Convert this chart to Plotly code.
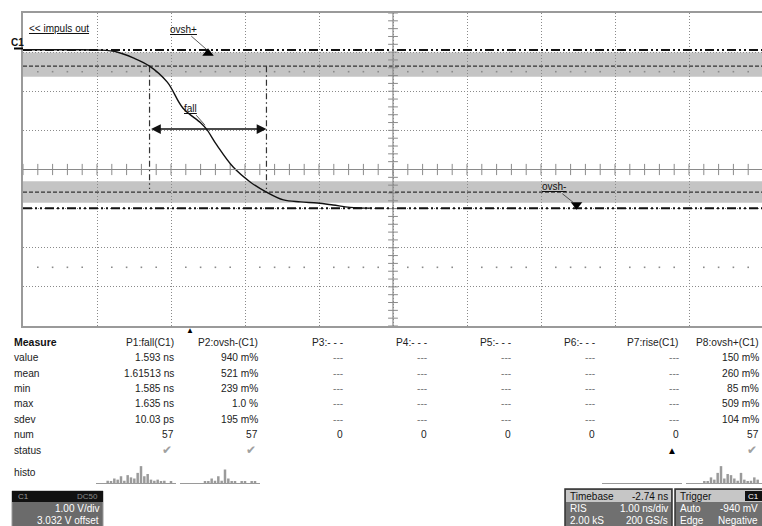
import plotly.graph_objects as go

W, H = 762, 526
FONT = "Liberation Sans"

# ---------------- screen geometry (scope settings) ----------------
T_DIV = 1.00          # ns/div
V_DIV = 1.00          # V/div
V_OFFSET = 3.032      # V
T_CENTER = 2.74       # ns (timebase delay)
N_XDIV, N_YDIV = 10, 8

# ---------------- waveform C1 (ns, V) ----------------
t_ns = [-2.26, -1.60, -1.22, -0.99, -0.77, -0.55, -0.31, -0.10, 0.14, 0.22,
        0.36, 0.58, 0.81, 1.03, 1.26, 1.49, 1.72, 1.93, 2.16, 2.45]
v_V = [0.03, 0.03, 0.02, -0.03, -0.18, -0.39, -0.80, -1.46, -1.84, -2.00,
       -2.41, -2.97, -3.35, -3.61, -3.81, -3.86, -3.89, -3.94, -4.00, -4.02]

# measurement levels (V)
top_level = 0.02
base_level = -4.02
upper_band = [-0.04, -0.66]
upper_thresh = -0.39
lower_band = [-3.33, -3.88]
lower_thresh = -3.61
# fall cursors (ns) and arrow level
fall_t = [-0.55, 1.03]
fall_arrow_v = -2.00
fall_cursor_v = [-0.39, -3.53]
# overshoot markers
ovsh_plus = (0.24, -0.06)
ovsh_minus = (5.22, -3.93)

# ---------------- measurement table ----------------
row_labels = ["value", "mean", "min", "max", "sdev", "num", "status", "histo"]
headers = ["P1:fall(C1)", "P2:ovsh-(C1)", "P3:- - -", "P4:- - -", "P5:- - -",
           "P6:- - -", "P7:rise(C1)", "P8:ovsh+(C1)"]
p1_vals = ["1.593 ns", "1.61513 ns", "1.585 ns", "1.635 ns", "10.03 ps", "57"]
p2_vals = ["940 m%", "521 m%", "239 m%", "1.0 %", "195 m%", "57"]
empty_vals = ["---", "---", "---", "---", "---", "0"]
p8_vals = ["150 m%", "260 m%", "85 m%", "509 m%", "104 m%", "57"]
col_vals = [p1_vals, p2_vals, empty_vals, empty_vals, empty_vals, empty_vals,
            empty_vals, p8_vals]
status = ["ok", "ok", "", "", "", "", "warn", "ok"]

hist_p1 = [0, 0, 0, 2, 1, 4, 3, 6, 2, 7, 5, 4, 9, 15, 6, 8, 3, 2, 3, 1, 2, 0, 1, 0]
hist_p2 = [0, 0, 0, 0, 0, 0, 0, 1, 1, 4, 2, 6, 2, 12, 4, 1, 1, 0, 1, 1, 0, 1, 1, 0]
hist_p7 = [0] * 24
hist_p8 = [0, 0, 0, 0, 0, 1, 1, 5, 3, 9, 15, 4, 8, 7, 4, 2, 9, 3, 1, 2, 5, 3, 0, 0]

# ---------------- layout helpers (pixel -> paper) ----------------
PL, PT, PB = 23, 13, 326
PR = 762


def px(x):
    return x / W


def py(y):
    return 1 - y / H


x_left = T_CENTER - N_XDIV / 2 * T_DIV
x_right = x_left + (PR - PL) / (74.0) * T_DIV
VC = -V_OFFSET
y_lo, y_hi = VC - N_YDIV / 2 * V_DIV, VC + N_YDIV / 2 * V_DIV

fig = go.Figure()

# minor ticks on centre axes and dotted rows
minor_x = [T_CENTER + k * 0.2 * T_DIV for k in range(-25, 26)]
minor_x = [x for x in minor_x if x_left <= x <= x_right]
minor_y = [VC + k * 0.2 * V_DIV for k in range(-20, 21)]
dot_x = [x for x in minor_x if abs(round((x - T_CENTER) / 0.2)) % 5 != 0]

fig.add_trace(go.Scatter(x=minor_x, y=[VC] * len(minor_x), mode="markers",
                         marker=dict(symbol="line-ns", size=8, line=dict(color="#8a8a8a", width=1)),
                         hoverinfo="skip", showlegend=False))
fig.add_trace(go.Scatter(x=[T_CENTER] * len(minor_y), y=minor_y, mode="markers",
                         marker=dict(symbol="line-ew", size=7, line=dict(color="#8a8a8a", width=1)),
                         hoverinfo="skip", showlegend=False))
for dv in (2.5, -2.5):
    fig.add_trace(go.Scatter(x=dot_x, y=[VC + dv * V_DIV] * len(dot_x), mode="markers",
                             marker=dict(symbol="square", size=1.6, color="#8a8a8a"),
                             hoverinfo="skip", showlegend=False))

# level lines
LEVEL_DASH = "9px,3px,2px,3px,2px,3px"
for lv in (top_level, base_level):
    fig.add_trace(go.Scatter(x=[x_left, x_right], y=[lv, lv], mode="lines",
                             line=dict(color="#111", width=2, dash=LEVEL_DASH),
                             hoverinfo="skip", showlegend=False))
for lv in (upper_thresh, lower_thresh):
    fig.add_trace(go.Scatter(x=[x_left, x_right], y=[lv, lv], mode="lines",
                             line=dict(color="#333", width=1.2, dash="4px,2px"),
                             hoverinfo="skip", showlegend=False))
# fall cursors
for ft in fall_t:
    fig.add_trace(go.Scatter(x=[ft, ft], y=fall_cursor_v, mode="lines",
                             line=dict(color="#333", width=1.2, dash="6px,3px,1.5px,3px"),
                             hoverinfo="skip", showlegend=False))

# waveform
fig.add_trace(go.Scatter(x=t_ns, y=v_V, mode="lines", line=dict(color="#111", width=1.4, shape="spline"),
                         hoverinfo="skip", showlegend=False))

# overshoot markers
fig.add_trace(go.Scatter(x=[ovsh_plus[0]], y=[ovsh_plus[1]], mode="markers",
                         marker=dict(symbol="triangle-up", size=10, color="#000"),
                         hoverinfo="skip", showlegend=False))
fig.add_trace(go.Scatter(x=[ovsh_minus[0]], y=[ovsh_minus[1]], mode="markers",
                         marker=dict(symbol="triangle-down", size=10, color="#000"),
                         hoverinfo="skip", showlegend=False))

# histograms
hist_sets = [(hist_p1, 176), (hist_p2, 260), (hist_p7, 682), (hist_p8, 766)]
for i, (counts, right) in enumerate(hist_sets):
    n = i + 2
    fig.add_trace(go.Bar(x=list(range(len(counts))), y=counts, marker_color="#9a9a9a",
                         marker_line_width=0, xaxis=f"x{n}", yaxis=f"y{n}",
                         hoverinfo="skip", showlegend=False))
    visible_bins = len(counts) - max(0, right - W) * len(counts) / 80
    fig.update_layout(**{
        f"xaxis{n}": dict(domain=[px(right - 80), min(1, px(right))], anchor=f"y{n}",
                          range=[-0.5, visible_bins - 0.5],
                          showgrid=False, zeroline=False, showticklabels=False,
                          showline=True, linecolor="#9a9a9a", linewidth=1, ticks=""),
        f"yaxis{n}": dict(domain=[py(483), py(465)], anchor=f"x{n}", range=[0, 16],
                          showgrid=False, zeroline=False, showticklabels=False, showline=False),
    })

shapes = []
# bands
for b in (upper_band, lower_band):
    shapes.append(dict(type="rect", xref="x", yref="y", x0=x_left, x1=x_right, y0=b[1], y1=b[0],
                       fillcolor="#c4c4c4", line=dict(width=0), layer="below"))
# centre axes
shapes.append(dict(type="line", xref="x", yref="y", x0=x_left, x1=x_right, y0=VC, y1=VC,
                   line=dict(color="#8a8a8a", width=1.2)))
shapes.append(dict(type="line", xref="x", yref="y", x0=T_CENTER, x1=T_CENTER, y0=y_lo, y1=y_hi,
                   line=dict(color="#8a8a8a", width=1.2)))
# C1 marker line
shapes.append(dict(type="line", xref="paper", yref="paper", x0=px(14), x1=px(23), y0=py(48.5), y1=py(48.5),
                   line=dict(color="#000", width=2)))

# bottom info boxes
shapes += [
    dict(type="rect", xref="paper", yref="paper", x0=px(12), x1=px(103), y0=py(491), y1=py(535),
         fillcolor="#6b6b6b", line=dict(color="#9a9a9a", width=1)),
    dict(type="rect", xref="paper", yref="paper", x0=px(12), x1=px(103), y0=py(491), y1=py(502),
         fillcolor="#111", line=dict(width=0)),
    dict(type="rect", xref="paper", yref="paper", x0=px(565), x1=px(672), y0=py(489), y1=py(535),
         fillcolor="#707070", line=dict(color="#333", width=1.5)),
    dict(type="rect", xref="paper", yref="paper", x0=px(566), x1=px(671), y0=py(490), y1=py(502),
         fillcolor="#c6c6c6", line=dict(width=0)),
    dict(type="rect", xref="paper", yref="paper", x0=px(675), x1=px(775), y0=py(489), y1=py(535),
         fillcolor="#707070", line=dict(color="#333", width=1.5)),
    dict(type="rect", xref="paper", yref="paper", x0=px(676), x1=px(775), y0=py(490), y1=py(502),
         fillcolor="#c6c6c6", line=dict(width=0)),
    dict(type="rect", xref="paper", yref="paper", x0=px(745), x1=px(762), y0=py(491), y1=py(501),
         fillcolor="#111", line=dict(width=0)),
]

ann = []


def text(x, y, s, size=10.2, color="#222", xanchor="left", bold=False):
    ann.append(dict(x=px(x), y=py(y), xref="paper", yref="paper", text=f"<b>{s}</b>" if bold else s,
                    showarrow=False, xanchor=xanchor, yanchor="middle",
                    font=dict(family=FONT, size=size, color=color)))


# in-screen labels
text(27, 29, "<u>&lt;&lt; impuls out</u>", size=10, color="#111")
text(9, 42, "C1", size=10, color="#111", bold=True)
ann.append(dict(x=ovsh_plus[0] - 0.01, y=top_level, xref="x", yref="y", text="<u>ovsh+</u>",
                showarrow=True, arrowhead=0, arrowwidth=0.8, arrowcolor="#333", ax=-24, ay=-21,
                standoff=0, font=dict(family=FONT, size=10, color="#111")))
ann.append(dict(x=ovsh_minus[0] - 0.04, y=ovsh_minus[1] + 0.05, xref="x", yref="y", text="<u>ovsh-</u>",
                showarrow=True, arrowhead=0, arrowwidth=0.8, arrowcolor="#333", ax=-20, ay=-16,
                standoff=0, font=dict(family=FONT, size=10, color="#111")))
ann.append(dict(x=0.20, y=-1.90, xref="x", yref="y", text="<u>fall</u>",
                showarrow=True, arrowhead=0, arrowwidth=0.8, arrowcolor="#333", ax=-15, ay=-17,
                standoff=0, font=dict(family=FONT, size=10, color="#111")))
# fall double arrow
ann.append(dict(x=fall_t[1], y=fall_arrow_v, ax=fall_t[0], ay=fall_arrow_v, xref="x", yref="y",
                axref="x", ayref="y", text="", showarrow=True, arrowhead=2, arrowside="end+start",
                arrowsize=1.3, arrowwidth=1.5, arrowcolor="#111", standoff=0, startstandoff=0))
# trigger marker
text(190, 330, "▲", size=8, color="#000", xanchor="center")

# measurement table
row_y = [357.5, 373, 388, 403.5, 419, 434, 450, 472]
col_right = [176, 260, 345, 429, 513, 597, 681, 761]
text(12, 342, "Measure", size=10.5, color="#111", bold=True)
for lbl, yy in zip(row_labels, row_y):
    text(12, yy, lbl)
for c, (hd, vals, st, xr) in enumerate(zip(headers, col_vals, status, col_right)):
    text(xr, 342, hd, xanchor="right")
    for v, yy in zip(vals, row_y[:6]):
        text(xr, yy, v, xanchor="right", color="#777" if v == "---" else "#222")
    if st == "ok":
        text(xr - 2, row_y[6], "✔", size=12, color="#a0a0a0", xanchor="right")
    elif st == "warn":
        text(xr - 2, row_y[6], "▲", size=10, color="#000", xanchor="right")

# channel descriptor
text(16, 496.5, "C1", size=8, color="#9a9a9a")
text(100, 496.5, "DC50", size=8, color="#8a8a8a", xanchor="right")
text(101, 508.5, "1.00 V/div", size=10, color="#fff", xanchor="right")
text(101, 520.5, "3.032 V offset", size=10, color="#fff", xanchor="right")
# timebase
text(568, 496, "Timebase", size=10, color="#111")
text(670, 496, "-2.74 ns", size=10, color="#111", xanchor="right")
text(568, 508.5, "RIS", size=10, color="#fff")
text(670, 508.5, "1.00 ns/div", size=10, color="#fff", xanchor="right")
text(568, 520.5, "2.00 kS", size=10, color="#fff")
text(670, 520.5, "200 GS/s", size=10, color="#fff", xanchor="right")
# trigger
text(678, 496, "Trigger", size=10, color="#111")
text(753.5, 496, "C1", size=8, color="#fff", xanchor="center")
text(678, 508.5, "Auto", size=10, color="#fff")
text(760, 508.5, "-940 mV", size=10, color="#fff", xanchor="right")
text(678, 520.5, "Edge", size=10, color="#fff")
text(760, 520.5, "Negative", size=10, color="#fff", xanchor="right")

fig.update_layout(
    width=W, height=H, margin=dict(l=0, r=0, t=0, b=0),
    paper_bgcolor="#fff", plot_bgcolor="#fff",
    bargap=0.25,
    xaxis=dict(domain=[px(PL), 1], range=[x_left, x_right], tick0=T_CENTER, dtick=T_DIV,
               showgrid=True, gridcolor="#8a8a8a", griddash="1px,2px", gridwidth=1,
               showticklabels=False, ticks="", zeroline=False,
               showline=True, linecolor="#9a9a9a", linewidth=1.5, mirror=True),
    yaxis=dict(domain=[py(PB), py(PT)], range=[y_lo, y_hi], tick0=VC, dtick=V_DIV,
               showgrid=True, gridcolor="#8a8a8a", griddash="1px,2px", gridwidth=1,
               showticklabels=False, ticks="", zeroline=False,
               showline=True, linecolor="#9a9a9a", linewidth=1.5),
    shapes=shapes, annotations=ann,
)

fig.write_html("out.html", config={"displayModeBar": False},
               post_script="document.body.style.margin='0';document.body.style.overflow='hidden';")
